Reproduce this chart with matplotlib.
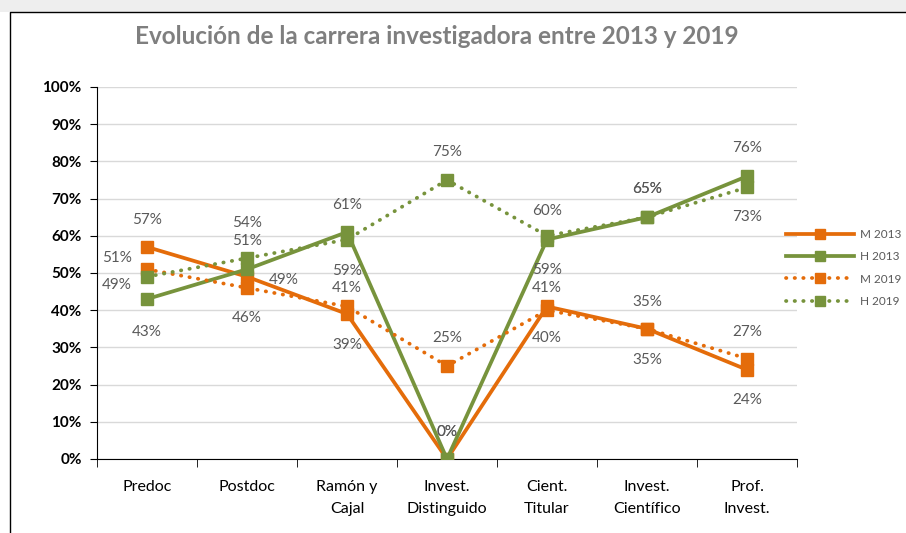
import matplotlib.pyplot as plt
from matplotlib.patches import Rectangle
from matplotlib.lines import Line2D

plt.rcParams['font.family'] = ['Lato', 'DejaVu Sans']

# datos (porcentajes)
categorias = ['Predoc', 'Postdoc', 'Ramón y\nCajal', 'Invest.\nDistinguido',
              'Cient.\nTitular', 'Invest.\nCientífico', 'Prof.\nInvest.']
m_2013 = [57, 49, 39, 0, 41, 35, 24]
h_2013 = [43, 51, 61, 0, 59, 65, 76]
m_2019 = [51, 46, 41, 25, 40, 35, 27]
h_2019 = [49, 54, 59, 75, 60, 65, 73]
nombres = ['M 2013', 'H 2013', 'M 2019', 'H 2019']

# desplazamiento de las etiquetas de datos en pixeles (dx, dy hacia arriba)
off_m13 = [(0, 27), (37, -3), (0, -31), (0, 27), (0, 18), (0, -31), (0, -30)]
off_h13 = [(0, -33), (0, 28), (0, 27), (0, 27), (0, -30), (0, 28), (0, 28)]
off_m19 = [(-30, 11), (0, -30), (0, 18), (0, 28), (0, -28), (0, 27), (0, 27)]
off_h19 = [(-30, -8), (0, 35), (0, -31), (0, 28), (0, 25), (0, 28), (0, -30)]

naranja = '#E46C0A'
verde = '#77933C'
gris = '#595959'

fig = plt.figure(figsize=(9.06, 5.33), dpi=100)
fig.patches.append(Rectangle((0, 1 - 12 / 533), 1, 12 / 533, transform=fig.transFigure,
                             facecolor='#eeeeee', edgecolor='none', zorder=0))
fig.lines.append(Line2D([10 / 906, 10 / 906, 1], [0, 1 - 12 / 533, 1 - 12 / 533],
                        transform=fig.transFigure, color='black', lw=1))

ax = fig.add_axes([97 / 906, 1 - 459 / 533, 700 / 906, 372 / 533])
x = range(len(categorias))

estilos = [
    (m_2013, naranja, '-', off_m13),
    (h_2013, verde, '-', off_h13),
    (m_2019, naranja, (0, (0.1, 2.2)), off_m19),
    (h_2019, verde, (0, (0.1, 2.2)), off_h19),
]
for (vals, col, ls, offs), nom in zip(estilos, nombres):
    ax.plot(x, vals, color=col, lw=2.7, linestyle=ls, dash_capstyle='round',
            marker='s', markersize=9, label=nom, zorder=3)
    for i, v in enumerate(vals):
        dx, dy = offs[i]
        ax.annotate(f'{v}%', (i, v), xytext=(dx * 0.72, dy * 0.72), textcoords='offset points',
                    ha='center', va='center', fontsize=11, color=gris, zorder=4)

ax.set_xlim(-0.5, 6.5)
ax.set_ylim(0, 100)
ax.set_yticks(range(0, 101, 10))
ax.set_yticklabels([f'{t}%' for t in range(0, 101, 10)], fontweight='bold', fontsize=11)
ax.set_xticks(list(x))
ax.set_xticklabels(categorias, fontsize=11.5, linespacing=1.75)
ax.set_xticks([i - 0.5 for i in range(len(categorias) + 1)], minor=True)
ax.tick_params(axis='x', which='major', length=0, pad=15)
ax.tick_params(axis='x', which='minor', length=6, direction='out', color='black')
ax.tick_params(axis='y', length=5, direction='out', color='black', pad=6)
ax.grid(axis='y', color='#d9d9d9', lw=1)
ax.set_axisbelow(True)
for s in ['top', 'right']:
    ax.spines[s].set_visible(False)
ax.spines['left'].set_color('black')
ax.spines['bottom'].set_color('black')

fig.text(437 / 906, 1 - 37 / 533, 'Evolución de la carrera investigadora entre 2013 y 2019',
         ha='center', va='center', fontsize=17.5, fontweight='bold', color='#7f7f7f')

leg = ax.legend(loc='center left', bbox_to_anchor=(775 / 906, 1 - 268 / 533),
                bbox_transform=fig.transFigure, frameon=False, fontsize=8.5,
                handlelength=5.8, labelspacing=0.95, handletextpad=0.5, markerscale=0.8)
for t in leg.get_texts():
    t.set_color(gris)

fig.savefig('out.png', dpi=100)
